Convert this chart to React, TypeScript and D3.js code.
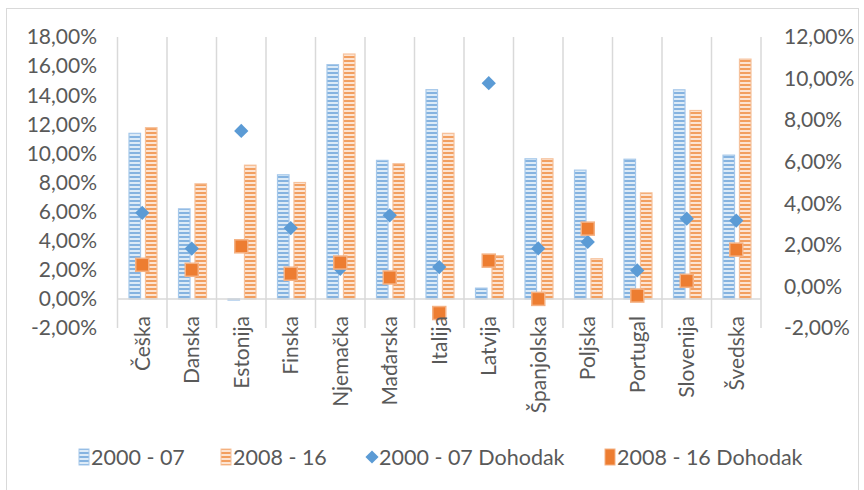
import React from 'react';
import * as d3 from 'd3';

// categories and values (%)
const countries = ['Češka', 'Danska', 'Estonija', 'Finska', 'Njemačka', 'Mađarska', 'Italija', 'Latvija', 'Španjolska', 'Poljska', 'Portugal', 'Slovenija', 'Švedska'];
const growth0007 = [11.38, 6.19, -0.08, 8.53, 16.1, 9.52, 14.38, 0.74, 9.63, 8.85, 9.6, 14.37, 9.88];
const growth0816 = [11.77, 7.91, 9.19, 8.0, 16.83, 9.29, 11.38, 2.97, 9.63, 2.76, 7.29, 12.95, 16.48];
const income0007 = [3.54, 1.82, 7.48, 2.81, 0.85, 3.42, 0.93, 9.78, 1.83, 2.14, 0.77, 3.26, 3.17];
const income0816 = [1.04, 0.8, 1.93, 0.61, 1.15, 0.43, -1.28, 1.24, -0.6, 2.78, -0.44, 0.27, 1.77];

const leftTicks = [-2, 0, 2, 4, 6, 8, 10, 12, 14, 16, 18];
const rightTicks = [-2, 0, 2, 4, 6, 8, 10, 12];
const seriesNames = ['2000 - 07', '2008 - 16', '2000 - 07 Dohodak', '2008 - 16 Dohodak'];

const W = 864;
const H = 490;
const plot = { left: 117.5, right: 761, top: 37, bottom: 328 };
const font = 'Lato, "Open Sans", sans-serif';
const textColor = '#595959';
const gridColor = '#D9D9D9';

const blue = '#5B9BD5';
const orange = '#ED7D31';

const fmt = (v: number) => v.toFixed(2).replace('.', ',') + '%';

export default function App() {
  const x = d3.scaleBand<string>().domain(countries).range([plot.left, plot.right]);
  const xInner = d3.scaleBand<string>().domain(['a', 'b']).range([11.5, 39.5]).paddingInner(0.3);
  const yL = d3.scaleLinear().domain([-2, 18]).range([plot.bottom, plot.top]);
  const yR = d3.scaleLinear().domain([-2, 12]).range([plot.bottom, plot.top]);
  const bw = xInner.bandwidth();

  const bar = (vals: number[], key: string, fill: string, stroke: string) =>
    vals.map((v, i) => {
      const x0 = (x(countries[i]) as number) + (xInner(key) as number);
      const y0 = Math.min(yL(v), yL(0));
      const h = Math.max(Math.abs(yL(v) - yL(0)), 1);
      return (
        <rect key={key + i} x={x0} y={y0} width={bw} height={h}
          fill={fill} stroke={stroke} strokeWidth={1.2} />
      );
    });

  const diamond = d3.symbol().type(d3.symbolDiamond2).size(130)();
  const sq = 13;

  const boundaries = d3.range(countries.length + 1).map(i => plot.left + i * x.step());

  const legendItems = [
    { x: 84, label: seriesNames[0], kind: 'barA' },
    { x: 226, label: seriesNames[1], kind: 'barB' },
    { x: 372, label: seriesNames[2], kind: 'dia' },
    { x: 610, label: seriesNames[3], kind: 'sq' },
  ];
  const legendY = 457;

  return (
    <svg width={W} height={H} style={{ position: 'absolute', left: 0, top: 0, background: '#fff' }}>
      <defs>
        <pattern id="pBlue" width="4" height="4" patternUnits="userSpaceOnUse">
          <rect width="4" height="4" fill="#DDEBF7" />
          <rect width="4" height="2" fill="#85B3E0" />
        </pattern>
        <pattern id="pOrange" width="4" height="4" patternUnits="userSpaceOnUse">
          <rect width="4" height="4" fill="#FCE4D3" />
          <rect width="4" height="2" fill="#F29F60" />
        </pattern>
      </defs>

      <rect x={6.5} y={8.5} width={852} height={484} fill="none" stroke={gridColor} />

      {/* category gridlines */}
      {boundaries.map((bx, i) => (
        <line key={'g' + i} x1={bx} x2={bx} y1={plot.top} y2={plot.bottom} stroke={gridColor} strokeWidth={1.5} />
      ))}

      {bar(growth0007, 'a', 'url(#pBlue)', '#A6C8EA')}
      {bar(growth0816, 'b', 'url(#pOrange)', '#F6C29C')}

      {/* zero axis */}
      <line x1={plot.left} x2={plot.right} y1={yL(0)} y2={yL(0)} stroke={gridColor} strokeWidth={1.5} />

      {income0007.map((v, i) => (
        <path key={'d' + i} d={diamond as string}
          transform={`translate(${(x(countries[i]) as number) + x.bandwidth() / 2},${yR(v)})`}
          fill={blue} />
      ))}
      {income0816.map((v, i) => (
        <rect key={'s' + i} x={(x(countries[i]) as number) + x.bandwidth() / 2 - sq / 2} y={yR(v) - sq / 2}
          width={sq} height={sq} fill={orange} stroke="#F4B183" strokeWidth={1.5} />
      ))}

      {/* left axis */}
      {leftTicks.map(t => (
        <text key={'l' + t} x={97} y={yL(t)} dy="0.35em" textAnchor="end"
          fontFamily={font} fontSize={21} fill={textColor}>{fmt(t)}</text>
      ))}
      {/* right axis */}
      {rightTicks.map(t => (
        <text key={'r' + t} x={784} y={yR(t)} dy="0.35em" textAnchor="start"
          fontFamily={font} fontSize={21} fill={textColor}>{fmt(t)}</text>
      ))}

      {/* category labels */}
      {countries.map(c => {
        const cx = (x(c) as number) + x.bandwidth() / 2 + 7.5;
        return (
          <text key={'c' + c} transform={`translate(${cx},316) rotate(-90)`} textAnchor="end"
            fontFamily={font} fontSize={21} fill={textColor}>{c}</text>
        );
      })}

      {/* legend */}
      {legendItems.map(it => (
        <g key={it.label}>
          {it.kind === 'barA' && <rect x={it.x - 5} y={legendY - 8} width={10} height={16} fill="url(#pBlue)" stroke="#A6C8EA" />}
          {it.kind === 'barB' && <rect x={it.x - 5} y={legendY - 8} width={10} height={16} fill="url(#pOrange)" stroke="#F6C29C" />}
          {it.kind === 'dia' && <path d={d3.symbol().type(d3.symbolDiamond2).size(110)() as string}
            transform={`translate(${it.x},${legendY})`} fill={blue} />}
          {it.kind === 'sq' && <rect x={it.x - 5} y={legendY - 8} width={10} height={16} fill={orange} stroke="#F4B183" />}
          <text x={it.x + 7} y={legendY} dy="0.35em" fontFamily={font} fontSize={21.5} fill={textColor}>{it.label}</text>
        </g>
      ))}
    </svg>
  );
}
